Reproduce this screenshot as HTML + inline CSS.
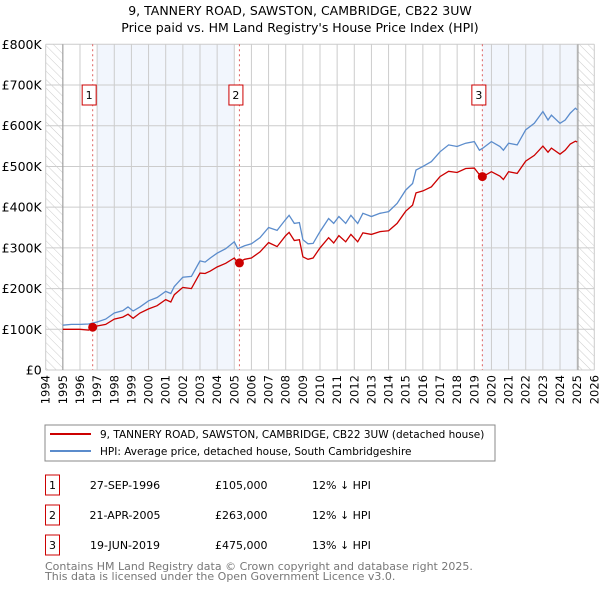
<!DOCTYPE html>
<html><head><meta charset="utf-8"><style>
body{margin:0;width:600px;height:590px;background:#fff;font-family:"DejaVu Sans","Liberation Sans",sans-serif;overflow:hidden}
svg text{font-family:"DejaVu Sans","Liberation Sans",sans-serif}
</style></head><body>
<svg id="chart" width="600" height="590">
<defs><pattern id="hatch" width="6" height="6" patternUnits="userSpaceOnUse" patternTransform="rotate(-45)"><line x1="0" y1="0" x2="0" y2="6" stroke="#ccc" stroke-width="1"/></pattern></defs>
<text x="300" y="15" text-anchor="middle" font-size="12.5">9, TANNERY ROAD, SAWSTON, CAMBRIDGE, CB22 3UW</text>
<text x="300" y="32" text-anchor="middle" font-size="12.5">Price paid vs. HM Land Registry's House Price Index (HPI)</text>
<g id="plot"></g>
<rect x="45" y="425" width="450" height="36" fill="#fff" stroke="#888"/>
<line x1="50" y1="434" x2="91" y2="434" stroke="#cc0000" stroke-width="2"/>
<text x="100" y="438" font-size="10.5">9, TANNERY ROAD, SAWSTON, CAMBRIDGE, CB22 3UW (detached house)</text>
<line x1="50" y1="451" x2="91" y2="451" stroke="#5b8ccc" stroke-width="2"/>
<text x="100" y="455" font-size="10.5">HPI: Average price, detached house, South Cambridgeshire</text>
<g id="table" font-size="11"></g>
<text x="45" y="570" font-size="11" fill="#777">Contains HM Land Registry data © Crown copyright and database right 2025.</text>
<text x="45" y="580" font-size="11" fill="#777">This data is licensed under the Open Government Licence v3.0.</text>
</svg>
<script>
const hpiYears=[1995,1995.5,1996,1996.5,1997,1997.5,1998,1998.5,1998.8,1999.1,1999.5,2000,2000.5,2001,2001.3,2001.5,2002,2002.5,2003,2003.3,2003.6,2004,2004.5,2005,2005.2,2005.6,2006,2006.5,2007,2007.5,2008,2008.2,2008.5,2008.8,2009,2009.3,2009.6,2010,2010.5,2010.8,2011.1,2011.5,2011.8,2012.2,2012.5,2013,2013.5,2014,2014.5,2015,2015.4,2015.6,2016,2016.5,2017,2017.5,2018,2018.5,2019,2019.3,2019.5,2020,2020.5,2020.7,2021,2021.5,2022,2022.5,2023,2023.3,2023.5,2024,2024.3,2024.6,2024.9,2025];
const hpiValues=[110,112,112,113,118,125,140,146,155,145,155,170,178,193,188,205,228,230,268,265,275,287,298,315,298,305,310,325,350,343,370,380,360,362,320,310,311,340,372,360,377,360,380,360,385,377,385,389,409,442,458,491,500,512,536,553,549,557,561,540,545,561,549,540,557,553,590,606,635,614,626,606,614,631,643,639];
const redYears=hpiYears;
const redValues=[100,100,100,98,108,112,125,130,137,127,140,150,158,173,167,185,203,200,238,237,243,253,262,275,263,272,275,290,313,303,330,338,318,320,278,272,275,300,325,312,330,315,333,315,337,333,340,342,360,390,405,435,440,450,475,488,485,495,496,480,475,487,476,468,487,483,513,527,550,535,545,530,540,555,562,560];
const saleYears=[1996.74,2005.30,2019.47];
const saleValues=[105,263,475];
const saleLabels=["1","2","3"];
const saleDates=["27-SEP-1996","21-APR-2005","19-JUN-2019"];
const salePrices=["£105,000","£263,000","£475,000"];
const saleDiffs=["12% ↓ HPI","12% ↓ HPI","13% ↓ HPI"];
const yTicks=[0,100,200,300,400,500,600,700,800];
const yTickLabels=["£0","£100K","£200K","£300K","£400K","£500K","£600K","£700K","£800K"];
const xTicks=[];for(let y=1994;y<=2026;y++)xTicks.push(y);

const X0=45.7,X1=594.3,Y0=370,Y1=44.3;
const xs=v=>X0+(v-1994)/32*(X1-X0);
const ys=v=>Y0-v/800*(Y0-Y1);
const NS="http://www.w3.org/2000/svg";
const plot=document.getElementById('plot');
function mk(tag,attrs,parent){const e=document.createElementNS(NS,tag);for(const k in attrs)e.setAttribute(k,attrs[k]);(parent||plot).appendChild(e);return e;}

let e;
e=mk('rect',{x:xs(1997),y:Y1,width:xs(2005)-xs(1997),height:Y0-Y1,fill:'#f2f6fd'});


e=mk('rect',{x:xs(2019.47),y:Y1,width:xs(2025.05)-xs(2019.47),height:Y0-Y1,fill:'#f2f6fd'});


e=mk('rect',{x:X0,y:Y1,width:xs(1995)-X0,height:Y0-Y1,fill:'url(#hatch)'});


e=mk('rect',{x:xs(2025.05),y:Y1,width:X1-xs(2025.05),height:Y0-Y1,fill:'url(#hatch)'});



xTicks.forEach((t,i)=>{
  e=mk('line',{x1:xs(t),x2:xs(t),y1:Y1,y2:Y0,stroke:'#ccc','stroke-width':1});
  
  
  e=mk('text',{x:0,y:0,'font-size':11.5,'text-anchor':'end',transform:`translate(${xs(t)+4},${Y0+5}) rotate(-90)`});
  e.textContent=t;
  
  
});
yTicks.forEach((t,i)=>{
  e=mk('line',{x1:X0,x2:X1,y1:ys(t),y2:ys(t),stroke:'#ccc','stroke-width':1});
  
  
  e=mk('text',{x:X0-4,y:ys(t)+4.5,'font-size':12.5,'text-anchor':'end'});
  e.textContent=yTickLabels[i];
  
  
});
e=mk('line',{x1:xs(1995),x2:xs(1995),y1:Y1,y2:Y0,stroke:'#999','stroke-width':1});


e=mk('line',{x1:xs(2025.05),x2:xs(2025.05),y1:Y1,y2:Y0,stroke:'#999','stroke-width':1});



saleYears.forEach((s,i)=>{
  e=mk('line',{x1:xs(s),x2:xs(s),y1:Y1,y2:Y0,stroke:'#e06060','stroke-width':1,'stroke-dasharray':'2,3'});
  
  
});

function path(xa,va){return xa.map((x,i)=>(i?'L':'M')+xs(x).toFixed(1)+','+ys(va[i]).toFixed(1)).join('');}
e=mk('path',{d:path(hpiYears,hpiValues),fill:'none',stroke:'#5b8ccc','stroke-width':1.3});


e=mk('path',{d:path(redYears,redValues),fill:'none',stroke:'#cc0000','stroke-width':1.3});



saleYears.forEach((s,i)=>{
  e=mk('circle',{cx:xs(s),cy:ys(saleValues[i]),r:4.5,fill:'#cc0000'});
  
  
  e=mk('rect',{x:xs(s)-10.5,y:85,width:14,height:20,fill:'#fff',stroke:'#cc0000'});
  
  
  e=mk('text',{x:xs(s)-3.5,y:99,'font-size':11,'text-anchor':'middle'});
  e.textContent=saleLabels[i];
  
  
});

const tbl=document.getElementById('table');
saleYears.forEach((s,i)=>{
  const y0=475+i*30;
  e=mk('rect',{x:45.5,y:y0,width:14,height:20,fill:'#fff',stroke:'#cc0000'},tbl);
  
  
  e=mk('text',{x:52.5,y:y0+14,'text-anchor':'middle'},tbl);e.textContent=saleLabels[i];
  
  
  e=mk('text',{x:125,y:y0+14,'text-anchor':'middle'},tbl);e.textContent=saleDates[i];
  
  
  e=mk('text',{x:215,y:y0+14},tbl);e.textContent=salePrices[i];
  
  
  e=mk('text',{x:312,y:y0+14},tbl);e.textContent=saleDiffs[i];
  
  
});
</script>
</body></html>
